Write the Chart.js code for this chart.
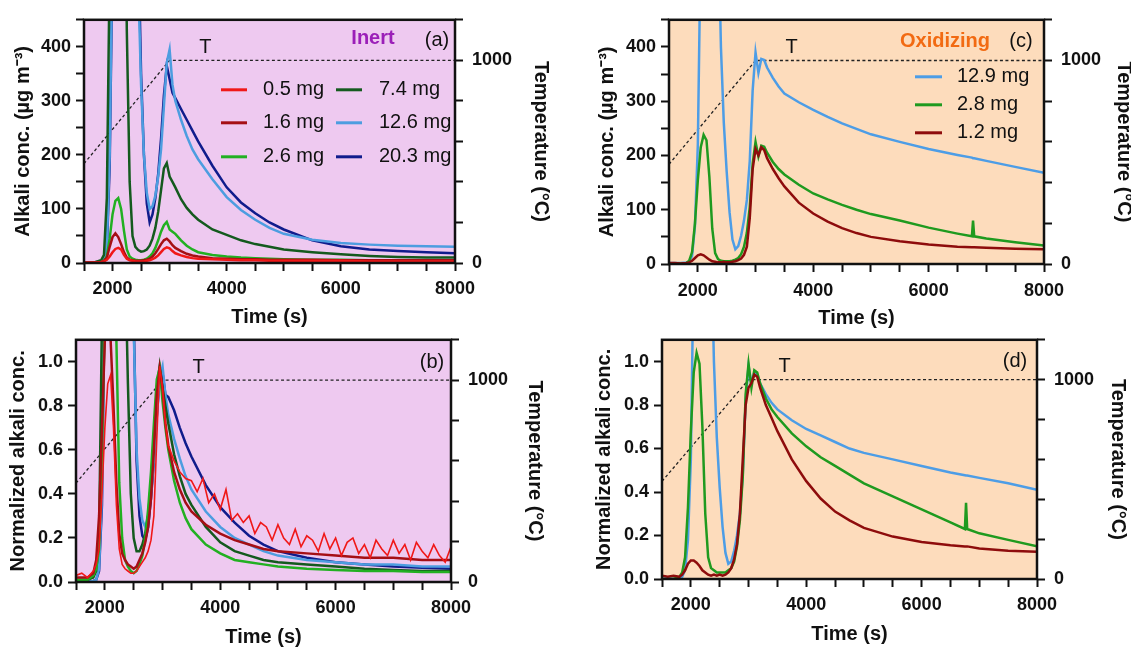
<!DOCTYPE html>
<html lang="en">
<head>
<meta charset="UTF-8">
<title>Alkali release, inert vs oxidizing</title>
<script src="https://cdn.jsdelivr.net/npm/chart.js@4"></script>
<style>
    html, body { margin: 0; padding: 0; background: #fff; overflow: hidden; }
    body { width: 1131px; height: 647px; position: relative; }
    canvas { position: absolute; }
</style>
</head>
<body>
<canvas id="panelA" width="565" height="335" style="left:0;top:0"></canvas>
<canvas id="panelB" width="565" height="335" style="left:0;top:320px"></canvas>
<canvas id="panelC" width="580" height="335" style="left:565px;top:0"></canvas>
<canvas id="panelD" width="580" height="335" style="left:565px;top:320px"></canvas>

<script>
// ---- data ----
const tempTimes = [1500, 3000, 8000];
const tempValues = [490, 1000, 1000];

const inertLabels = ['0.5 mg', '1.6 mg', '2.6 mg', '7.4 mg', '12.6 mg', '20.3 mg'];
const oxLabels = ['12.9 mg', '2.8 mg', '1.2 mg'];

const timesInert = [1500, 1600, 1700, 1800, 1850, 1900, 1950, 2000, 2050, 2100,
    2150, 2200, 2250, 2300, 2350, 2400, 2450, 2500, 2550, 2600,
    2650, 2700, 2750, 2800, 2850, 2900, 2950, 3000, 3050, 3100,
    3200, 3300, 3400, 3500, 3750, 4000, 4250, 4500, 4750, 5000,
    5500, 6000, 6500, 7000, 7500, 8000];

// (a) alkali conc., ug/m3
const inert05 = [1, 1, 1, 2, 3, 6, 12, 20, 26, 28,
    25, 15, 8, 5, 4, 3, 3, 3, 3, 4,
    5, 7, 10, 14, 20, 26, 29, 27, 22, 18,
    14, 11, 9, 8, 7, 6, 5, 5, 4, 4,
    4, 4, 3, 3, 3, 3];
const inert16 = [1, 1, 1, 2, 4, 10, 30, 48, 55, 48,
    35, 20, 10, 6, 5, 4, 4, 4, 5, 6,
    8, 12, 18, 26, 35, 42, 45, 40, 33, 28,
    22, 17, 14, 12, 9, 8, 7, 7, 6, 6,
    6, 5, 5, 5, 5, 5];
const inert26 = [1, 1, 1, 2, 4, 12, 45, 90, 115, 120,
    100, 60, 25, 12, 8, 6, 5, 5, 6, 8,
    12, 18, 28, 42, 58, 70, 76, 62, 58, 54,
    42, 32, 25, 20, 15, 12, 10, 9, 8, 7,
    6, 6, 5, 5, 5, 5];
const inert74 = [1, 1, 2, 5, 15, 120, 550, 900, 900, 900,
    900, 900, 430, 150, 50, 30, 24, 21, 22, 25,
    32, 45, 65, 95, 135, 175, 185, 160, 150, 140,
    118, 102, 90, 80, 62, 52, 42, 35, 30, 25,
    20, 16, 13, 11, 10, 10];
const inert126 = [0, 0, 0, 1, 4, 30, 200, 600, 900, 900,
    900, 900, 900, 900, 900, 900, 520, 330, 200, 130,
    100, 105, 125, 160, 210, 290, 370, 395, 330, 300,
    265, 235, 210, 192, 155, 122, 98, 80, 65, 54,
    43, 37, 34, 32, 31, 30];
const inert203 = [0, 0, 0, 1, 4, 25, 180, 580, 900, 900,
    900, 900, 900, 900, 900, 900, 600, 350, 200, 110,
    75, 90, 120, 165, 230, 310, 365, 340, 315, 305,
    285, 265, 245, 225, 180, 140, 112, 92, 75, 62,
    42, 31, 25, 22, 20, 18];

// (b) normalized
const norm05Times = [1500, 1600, 1700, 1800, 1850, 1900, 1950, 2000, 2050, 2100,
    2150, 2200, 2250, 2300, 2350, 2400, 2450, 2500, 2550, 2600,
    2650, 2700, 2750, 2800, 2850, 2900, 2950, 3000, 3050, 3100,
    3200, 3300, 3400, 3500, 3600, 3700, 3800, 3900, 4000, 4100,
    4200, 4300, 4400, 4500, 4600, 4700, 4800, 4900, 5000, 5100,
    5200, 5300, 5400, 5500, 5600, 5700, 5800, 5900, 6000, 6100,
    6200, 6300, 6400, 6500, 6600, 6700, 6800, 6900, 7000, 7100,
    7200, 7300, 7400, 7500, 7600, 7700, 7800, 7900, 8000];
const norm05 = [0.03, 0.04, 0.02, 0.05, 0.08, 0.15, 0.4, 0.7, 0.9, 0.94,
    0.7, 0.35, 0.15, 0.08, 0.06, 0.05, 0.04, 0.04, 0.05, 0.07,
    0.09, 0.11, 0.14, 0.19, 0.3, 0.65, 0.98, 0.88, 0.72, 0.62,
    0.55, 0.5, 0.47, 0.46, 0.41, 0.47, 0.36, 0.40, 0.33, 0.42,
    0.28, 0.31, 0.27, 0.30, 0.22, 0.27, 0.25, 0.19, 0.26, 0.2,
    0.17, 0.24, 0.16, 0.21, 0.19, 0.14, 0.22, 0.15, 0.2, 0.12,
    0.18, 0.2, 0.13, 0.17, 0.11, 0.19, 0.15, 0.12, 0.19, 0.13,
    0.17, 0.1, 0.18, 0.14, 0.11, 0.17, 0.12, 0.09, 0.16];
const norm16 = [0.02, 0.02, 0.02, 0.04, 0.1, 0.3, 0.7, 1.1, 1.25, 1.1,
    0.8, 0.45, 0.22, 0.13, 0.1, 0.08, 0.07, 0.06, 0.07, 0.1,
    0.13, 0.18, 0.25, 0.38, 0.6, 0.85, 0.97, 0.88, 0.72, 0.62,
    0.5, 0.42, 0.36, 0.32, 0.26, 0.22, 0.19, 0.17, 0.15, 0.14,
    0.13, 0.12, 0.11, 0.11, 0.1, 0.1];
const norm26 = [0.01, 0.01, 0.01, 0.03, 0.06, 0.15, 0.6, 1.2, 1.5, 1.6,
    1.5, 1.1, 0.45, 0.2, 0.1, 0.07, 0.05, 0.04, 0.05, 0.08,
    0.12, 0.2, 0.33, 0.5, 0.72, 0.92, 0.97, 0.82, 0.7, 0.6,
    0.46, 0.36, 0.29, 0.24, 0.17, 0.13, 0.1, 0.09, 0.08, 0.07,
    0.06, 0.055, 0.05, 0.05, 0.045, 0.045];
const norm74 = [0.01, 0.01, 0.01, 0.02, 0.05, 0.2, 1.2, 3, 3, 3,
    3, 3, 3, 2.5, 1.5, 0.9, 0.4, 0.2, 0.14, 0.14,
    0.17, 0.22, 0.3, 0.45, 0.65, 0.88, 0.98, 0.88, 0.8, 0.72,
    0.58, 0.48, 0.4, 0.35, 0.25, 0.18, 0.14, 0.12, 0.1, 0.09,
    0.08, 0.07, 0.06, 0.055, 0.05, 0.05];
const norm126 = [0, 0, 0, 0.005, 0.01, 0.06, 0.4, 1.5, 2, 2,
    2, 2, 2, 2, 2, 2, 2, 1.15, 0.6, 0.38,
    0.28, 0.25, 0.3, 0.4, 0.55, 0.75, 0.93, 0.98, 0.85, 0.76,
    0.65, 0.56, 0.48, 0.42, 0.32, 0.25, 0.2, 0.17, 0.14, 0.12,
    0.1, 0.09, 0.08, 0.08, 0.07, 0.07];
const norm203 = [0, 0, 0, 0.005, 0.01, 0.05, 0.35, 1.4, 2, 2,
    2, 2, 2, 2, 2, 2, 2, 1.2, 0.55, 0.3,
    0.21, 0.19, 0.25, 0.38, 0.55, 0.75, 0.92, 0.95, 0.85, 0.84,
    0.78, 0.7, 0.63, 0.57, 0.44, 0.34, 0.27, 0.21, 0.17, 0.14,
    0.11, 0.09, 0.08, 0.07, 0.065, 0.06];

const timesOx = [1500, 1600, 1700, 1800, 1850, 1900, 1950, 2000, 2050, 2100,
    2150, 2200, 2250, 2300, 2350, 2400, 2450, 2500, 2550, 2600,
    2650, 2700, 2750, 2800, 2850, 2900, 2950, 3000, 3050, 3100,
    3150, 3200, 3300, 3400, 3500, 3750, 4000, 4250, 4500, 4750,
    5000, 5500, 6000, 6500, 6750, 6770, 6790, 7000, 7500, 8000];

// (c) alkali conc., ug/m3
const ox129 = [2, 2, 2, 3, 4, 15, 70, 220, 600, 900,
    900, 900, 900, 900, 650, 400, 260, 170, 95, 45,
    27, 33, 52, 80, 118, 190, 320, 390, 352, 378,
    376, 362, 343, 327, 314, 298, 284, 271, 259, 249,
    239, 225, 212, 201, 196, 195, 195, 190, 179, 168];
const ox28 = [1, 1, 1, 2, 6, 22, 75, 155, 215, 238,
    228, 160, 65, 20, 9, 6, 5, 5, 5, 6,
    8, 11, 18, 32, 58, 105, 185, 225, 198, 218,
    216, 205, 188, 175, 165, 146, 130, 119, 109, 100,
    92, 80, 67, 56, 51, 80, 51, 47, 40, 34];
const ox12 = [2, 2, 1, 2, 3, 6, 11, 16, 18, 16,
    12, 8, 5, 4, 3, 3, 4, 3, 3, 4,
    5, 7, 10, 17, 32, 85, 175, 212, 200, 215,
    210, 195, 175, 158, 143, 113, 93, 78, 66, 57,
    50, 42, 36, 32, 31, 31, 31, 30, 28, 27];

// (d) normalized
const oxNorm129 = [0, 0.005, 0, 0.005, 0.01, 0.04, 0.18, 0.55, 1.5, 2.3,
    2.3, 2.3, 2.3, 2.3, 1.6, 1.0, 0.65, 0.42, 0.24, 0.12,
    0.07, 0.08, 0.13, 0.2, 0.3, 0.48, 0.82, 0.98, 0.9, 0.95,
    0.94, 0.9, 0.85, 0.81, 0.78, 0.73, 0.69, 0.66, 0.63, 0.6,
    0.58, 0.55, 0.52, 0.49, 0.477, 0.476, 0.476, 0.465, 0.44, 0.41];
const oxNorm28 = [0, 0, 0, 0.01, 0.03, 0.1, 0.33, 0.68, 0.95, 1.04,
    0.99, 0.7, 0.3, 0.1, 0.05, 0.04, 0.03, 0.03, 0.03, 0.03,
    0.04, 0.05, 0.08, 0.15, 0.27, 0.47, 0.85, 0.99, 0.88, 0.96,
    0.95, 0.9, 0.83, 0.78, 0.745, 0.67, 0.61, 0.56, 0.52, 0.48,
    0.44, 0.38, 0.32, 0.26, 0.23, 0.35, 0.23, 0.21, 0.18, 0.15];
const oxNorm12 = [0.015, 0.01, 0.015, 0.01, 0.02, 0.04, 0.07, 0.085, 0.085, 0.075,
    0.06, 0.04, 0.03, 0.02, 0.015, 0.02, 0.015, 0.02, 0.015, 0.02,
    0.03, 0.05, 0.09, 0.16, 0.3, 0.55, 0.8, 0.88, 0.9, 0.94,
    0.93, 0.88, 0.8, 0.74, 0.68, 0.55, 0.45, 0.37, 0.31, 0.27,
    0.235, 0.195, 0.17, 0.155, 0.15, 0.15, 0.15, 0.14, 0.13, 0.125];

const tLabelAt = [3625, 1065];

// ---- styling ----
const FONT = "'Liberation Sans', Arial, Helvetica, sans-serif";
const ink = '#111';
const tickFont = { family: FONT, size: 18, weight: 'bold' };
const titleFont = { family: FONT, size: 20, weight: 'bold' };
const inertBg = '#eec9f0';
const oxBg = '#fddcbc';

const colors = {
    red: '#f01818', darkRed: '#a50f15', green: '#22b022', darkGreen: '#145a1e',
    lightBlue: '#4d9de0', navy: '#101c8c',
    oxBlue: '#4d9de6', oxGreen: '#1f9a1f', oxRed: '#8e0c0c'
};

const pts = (ts, vs) => ts.map((t, i) => ({ x: t, y: vs[i] }));

function line(label, ts, vs, color, width) {
    return {
        label, data: pts(ts, vs), borderColor: color, backgroundColor: color,
        borderWidth: width || 2.5, pointRadius: 0, tension: 0, yAxisID: 'y'
    };
}

function tempLine() {
    return {
        label: 'T', data: pts(tempTimes, tempValues), yAxisID: 'y2',
        borderColor: '#222', borderWidth: 1.3, borderDash: [3, 2.5],
        pointRadius: 0, order: 100
    };
}

// background, frame, panel letter, T mark and in-plot legend
const panelDecor = {
    id: 'panelDecor',
    beforeDatasetsDraw(chart, args, o) {
        const { ctx, chartArea: a } = chart;
        ctx.save();
        ctx.fillStyle = o.bg;
        ctx.fillRect(a.left, a.top, a.right - a.left, a.bottom - a.top);
        ctx.restore();
    },
    afterDatasetsDraw(chart, args, o) {
        const { ctx, chartArea: a, scales } = chart;
        ctx.save();
        ctx.strokeStyle = ink;
        ctx.lineWidth = 2.5;
        ctx.strokeRect(a.left, a.top, a.right - a.left, a.bottom - a.top);

        ctx.textBaseline = 'middle';
        ctx.textAlign = 'center';
        ctx.fillStyle = ink;
        ctx.font = `20px ${FONT}`;
        ctx.fillText('T', scales.x.getPixelForValue(tLabelAt[0]), scales.y2.getPixelForValue(tLabelAt[1]));
        ctx.fillText(o.panel, a.left + o.panelAt[0], a.top + o.panelAt[1]);

        if (o.cond) {
            ctx.font = `bold 20px ${FONT}`;
            ctx.fillStyle = o.condColor;
            ctx.fillText(o.cond, a.left + o.condAt[0], a.top + o.condAt[1]);
        }

        if (o.legend) {
            ctx.font = `20px ${FONT}`;
            ctx.textAlign = 'left';
            ctx.fillStyle = ink;
            o.legend.items.forEach((it, i) => {
                const col = o.legend.cols[Math.floor(i / o.legend.rows.length)];
                const y = a.top + o.legend.rows[i % o.legend.rows.length];
                ctx.strokeStyle = it.color;
                ctx.lineWidth = 3;
                ctx.beginPath();
                ctx.moveTo(a.left + col.line[0], y);
                ctx.lineTo(a.left + col.line[1], y);
                ctx.stroke();
                ctx.fillText(it.text, a.left + col.text, y);
            });
        }
        ctx.restore();
    }
};

function makePanel(id, p) {
    return new Chart(document.getElementById(id), {
        type: 'line',
        data: { datasets: p.datasets.concat([tempLine()]) },
        plugins: [panelDecor],
        options: {
            responsive: false,
            animation: false,
            devicePixelRatio: 1,
            layout: { padding: { top: p.top, left: 0, right: 0, bottom: 0 } },
            plugins: {
                legend: { display: false },
                tooltip: { enabled: false },
                panelDecor: p.decor
            },
            scales: {
                x: {
                    type: 'linear', min: 1500, max: 8000,
                    afterFit: s => { s.height = p.xh; },
                    ticks: {
                        stepSize: 500, autoSkip: false, maxRotation: 0, padding: p.xpad,
                        color: ink, font: tickFont,
                        callback: v => (v % 2000 === 0 ? String(v) : '')
                    },
                    grid: { drawOnChartArea: false, tickLength: 8, tickWidth: 2, tickColor: ink },
                    border: { display: false },
                    title: { display: true, text: 'Time (s)', color: ink, font: titleFont, padding: { top: 0, bottom: p.xtb } }
                },
                y: {
                    type: 'linear', position: 'left', min: 0, max: p.ymax,
                    afterFit: s => { s.width = p.lw; },
                    ticks: {
                        stepSize: p.ystep, includeBounds: false, padding: 5,
                        color: ink, font: tickFont, callback: p.yfmt
                    },
                    grid: { drawOnChartArea: false, tickLength: 8, tickWidth: 2, tickColor: ink },
                    border: { display: false },
                    title: { display: true, text: p.ytitle, color: ink, font: titleFont, padding: { top: p.ltp, bottom: 0 } }
                },
                y2: {
                    type: 'linear', position: 'right', min: 0, max: 1200,
                    afterFit: s => { s.width = p.rw; },
                    ticks: {
                        stepSize: 100, includeBounds: false, padding: 9,
                        color: ink, font: tickFont,
                        callback: v => (v % 500 === 0 ? String(v) : '')
                    },
                    grid: { drawOnChartArea: false, tickLength: 8, tickWidth: 2, tickColor: ink },
                    border: { display: false },
                    title: { display: true, text: 'Temperature (°C)', color: ink, font: titleFont, padding: { top: p.rtp, bottom: 0 } }
                }
            }
        }
    });
}

const concFmt = v => (v % 100 === 0 ? String(v) : '');
const normFmt = v => v.toFixed(1);
const concTitle = 'Alkali conc. (µg m⁻³)';
const normTitle = 'Normalized alkali conc.';

// (a)
makePanel('panelA', {
    top: 15, xh: 72, lw: 84, rw: 110, xpad: 7, xtb: 6, ltp: 11, rtp: 12,
    ymax: 450, ystep: 50, yfmt: concFmt, ytitle: concTitle,
    datasets: [
        line(inertLabels[0], timesInert, inert05, colors.red),
        line(inertLabels[1], timesInert, inert16, colors.darkRed),
        line(inertLabels[2], timesInert, inert26, colors.green),
        line(inertLabels[3], timesInert, inert74, colors.darkGreen),
        line(inertLabels[4], timesInert, inert126, colors.lightBlue),
        line(inertLabels[5], timesInert, inert203, colors.navy)
    ],
    decor: {
        bg: inertBg, panel: '(a)', panelAt: [353, 21],
        cond: 'Inert', condColor: '#9b1fb8', condAt: [289, 19],
        legend: {
            rows: [70, 103, 137],
            cols: [{ line: [137, 163], text: 179 }, { line: [252, 278], text: 295 }],
            items: [
                { text: inertLabels[0], color: colors.red },
                { text: inertLabels[1], color: colors.darkRed },
                { text: inertLabels[2], color: colors.green },
                { text: inertLabels[3], color: colors.darkGreen },
                { text: inertLabels[4], color: colors.lightBlue },
                { text: inertLabels[5], color: colors.navy }
            ]
        }
    }
});

// (b)
makePanel('panelB', {
    top: 10, xh: 73, lw: 76, rw: 114, xpad: 7, xtb: 6, ltp: 6, rtp: 18,
    ymax: 1.1, ystep: 0.2, yfmt: normFmt, ytitle: normTitle,
    datasets: [
        line(inertLabels[0], norm05Times, norm05, colors.red, 1.6),
        line(inertLabels[1], timesInert, norm16, colors.darkRed),
        line(inertLabels[2], timesInert, norm26, colors.green),
        line(inertLabels[3], timesInert, norm74, colors.darkGreen),
        line(inertLabels[4], timesInert, norm126, colors.lightBlue),
        line(inertLabels[5], timesInert, norm203, colors.navy)
    ],
    decor: { bg: inertBg, panel: '(b)', panelAt: [356, 23] }
});

// (c)
makePanel('panelC', {
    top: 15, xh: 71, lw: 104, rw: 101, xpad: 8, xtb: 5, ltp: 30, rtp: 9,
    ymax: 450, ystep: 50, yfmt: concFmt, ytitle: concTitle,
    datasets: [
        line(oxLabels[2], timesOx, ox12, colors.oxRed),
        line(oxLabels[1], timesOx, ox28, colors.oxGreen),
        line(oxLabels[0], timesOx, ox129, colors.oxBlue)
    ],
    decor: {
        bg: oxBg, panel: '(c)', panelAt: [352, 22],
        cond: 'Oxidizing', condColor: '#f26a12', condAt: [276, 22],
        legend: {
            rows: [57, 85, 113],
            cols: [{ line: [246, 273], text: 288 }],
            items: [
                { text: oxLabels[0], color: colors.oxBlue },
                { text: oxLabels[1], color: colors.oxGreen },
                { text: oxLabels[2], color: colors.oxRed }
            ]
        }
    }
});

// (d)
makePanel('panelD', {
    top: 10, xh: 76, lw: 97, rw: 108, xpad: 7, xtb: 9, ltp: 27, rtp: 15,
    ymax: 1.1, ystep: 0.2, yfmt: normFmt, ytitle: normTitle,
    datasets: [
        line(oxLabels[2], timesOx, oxNorm12, colors.oxRed),
        line(oxLabels[1], timesOx, oxNorm28, colors.oxGreen),
        line(oxLabels[0], timesOx, oxNorm129, colors.oxBlue)
    ],
    decor: { bg: oxBg, panel: '(d)', panelAt: [353, 22] }
});
</script>
</body>
</html>
